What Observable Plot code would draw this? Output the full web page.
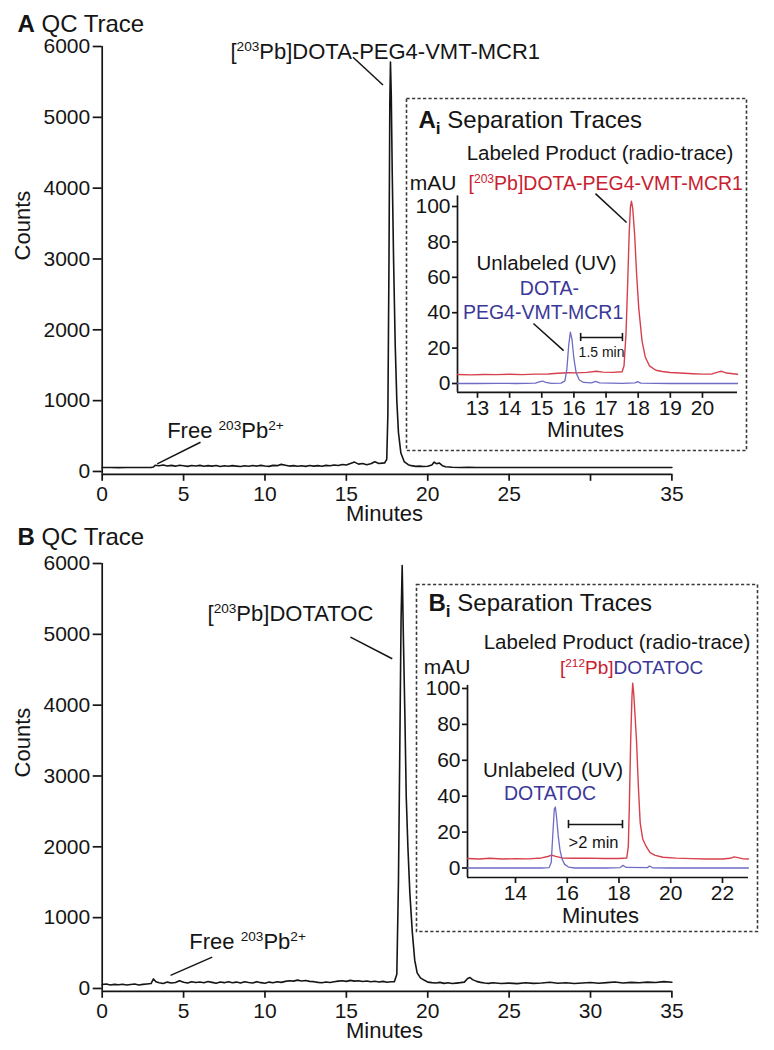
<!DOCTYPE html>
<html><head><meta charset="utf-8">
<script src="https://cdn.jsdelivr.net/npm/d3@7"></script>
<script src="https://cdn.jsdelivr.net/npm/@observablehq/plot@0.6"></script>
<style>
html,body{margin:0;padding:0;background:#fff;}
#fig{position:relative;width:774px;height:1050px;background:#fff;overflow:hidden;}
</style></head><body><div id="fig"></div>
<script>
// ---------------- data ----------------
// QC trace A: [minutes, counts]
const qcA = [[0,55],[0.5,56],[1,54],[1.5,56],[2,55],[2.5,56],[3,57],[3.15,62],[3.25,88],[3.5,80],[3.75,92],[4,78],[4.25,86],[4.5,75],[4.75,88],[5,80],[5.25,72],[5.5,84],[5.75,78],[6,86],[6.25,74],[6.5,82],[6.75,76],[7,84],[7.25,70],[7.5,80],[7.75,74],[8,82],[8.25,76],[8.5,70],[8.75,80],[9,74],[9.25,84],[9.5,76],[9.75,86],[10,78],[10.25,72],[10.5,86],[10.75,82],[11,100],[11.25,88],[11.5,76],[11.75,82],[12,74],[12.25,80],[12.5,72],[12.75,84],[13,76],[13.25,82],[13.5,74],[13.75,86],[14,80],[14.25,92],[14.5,84],[14.75,98],[15,92],[15.25,112],[15.5,132],[15.75,104],[16,112],[16.25,96],[16.5,108],[16.75,136],[17,112],[17.2,118],[17.35,120],[17.48,170],[17.55,800],[17.62,3000],[17.67,5200],[17.71,5780],[17.76,5300],[17.82,4200],[17.9,3000],[18.0,1800],[18.1,1000],[18.2,550],[18.35,260],[18.55,140],[18.8,95],[19,82],[19.25,72],[19.5,76],[19.75,70],[20,74],[20.25,92],[20.4,132],[20.55,108],[20.7,120],[20.9,82],[21.1,66],[21.5,60],[22,57],[22.5,58],[23,55],[24,57],[25,55],[26,57],[27,55],[28,56],[29,55],[30,56],[31,55],[32,57],[33,55],[34,56],[35,55]];
// QC trace B: [minutes, counts]
const qcB = [[0,55],[0.25,62],[0.5,50],[0.75,58],[1,52],[1.25,60],[1.5,48],[1.75,56],[2,62],[2.25,50],[2.5,58],[2.75,64],[3,70],[3.15,135],[3.3,95],[3.5,80],[3.75,70],[4,90],[4.25,78],[4.5,84],[4.75,110],[5,88],[5.25,76],[5.5,96],[5.75,84],[6,92],[6.25,80],[6.5,98],[6.75,86],[7,74],[7.25,92],[7.5,82],[7.75,96],[8,80],[8.25,90],[8.5,76],[8.75,94],[9,84],[9.25,78],[9.5,96],[9.75,82],[10,74],[10.25,90],[10.5,80],[10.75,94],[11,86],[11.25,100],[11.5,110],[11.75,104],[12,118],[12.25,106],[12.5,112],[12.75,100],[13,96],[13.25,86],[13.5,80],[13.75,92],[14,84],[14.25,96],[14.5,104],[14.75,110],[15,100],[15.25,114],[15.5,104],[15.75,110],[16,98],[16.25,106],[16.5,94],[16.75,102],[17,92],[17.25,100],[17.5,88],[17.75,94],[17.95,95],[18.1,200],[18.2,1500],[18.28,3300],[18.36,5200],[18.43,5970],[18.5,5000],[18.6,3800],[18.68,2700],[18.78,2000],[18.9,1350],[19.05,800],[19.2,400],[19.35,220],[19.55,150],[19.8,115],[20,90],[20.25,82],[20.5,78],[20.75,86],[21,72],[21.25,80],[21.5,70],[21.75,76],[22,82],[22.25,90],[22.45,140],[22.6,155],[22.75,125],[23,100],[23.25,86],[23.5,78],[23.75,72],[24,80],[24.5,70],[25,76],[25.5,68],[26,80],[26.5,72],[27,78],[27.5,88],[28,74],[28.5,80],[29,70],[29.5,78],[30,84],[30.5,74],[31,82],[31.5,92],[32,78],[32.5,86],[33,80],[33.5,90],[34,84],[34.5,96],[35,88]];
// Separation traces Ai: [minutes, mAU]
const radioA = [[12.38,5.1],[12.8,4.9],[13.2,5.1],[13.6,5.0],[14.0,5.2],[14.4,5.0],[14.8,5.3],[15.2,5.4],[15.5,5.8],[15.8,6.1],[16.1,6.0],[16.4,6.3],[16.7,6.9],[16.9,6.4],[17.2,6.3],[17.5,6.6],[17.56,10],[17.62,28],[17.67,55],[17.72,85],[17.76,100],[17.79,103],[17.83,99],[17.89,84],[17.95,62],[18.02,42],[18.12,24],[18.22,15],[18.35,10],[18.55,7.5],[18.75,6.8],[19.0,6.2],[19.3,5.9],[19.7,5.5],[20.0,5.3],[20.3,5.4],[20.5,6.6],[20.6,6.9],[20.75,5.9],[21.09,5.2]];
const uvA = [[12.38,0],[13,0],[13.6,0.1],[14.2,0],[14.8,0.2],[14.95,1.0],[15.02,1.4],[15.12,0.6],[15.3,0.1],[15.6,0.2],[15.72,1.5],[15.78,8],[15.84,22],[15.89,29],[15.94,25],[16.0,14],[16.07,6],[16.17,2],[16.3,0.6],[16.55,0.3],[16.67,1.2],[16.8,0.4],[17.5,0.1],[17.9,0.4],[17.98,1.1],[18.08,0.2],[19,0],[20,0],[21.09,0]];
// Separation traces Bi: [minutes, mAU]
const radioB = [[12.15,5.3],[12.6,5.0],[13,5.4],[13.5,5.0],[14,5.2],[14.5,5.1],[15,5.6],[15.25,6.4],[15.4,7.2],[15.55,6.5],[15.8,5.6],[16.2,5.4],[16.8,5.5],[17.4,5.3],[18,5.3],[18.3,5.6],[18.36,12],[18.4,35],[18.45,70],[18.5,95],[18.53,103],[18.57,97],[18.62,85],[18.68,70],[18.75,45],[18.82,25],[18.92,16],[19.05,12],[19.2,8.5],[19.4,7],[19.7,6],[20.2,5.5],[20.8,5.2],[21.4,5.0],[22,5.0],[22.3,5.4],[22.45,6.2],[22.6,5.8],[22.8,5.1],[23,5.0]];
const uvB = [[12.15,0],[13,0],[14,0],[15,0],[15.3,0.2],[15.38,3],[15.44,18],[15.5,33],[15.54,34],[15.59,28],[15.65,18],[15.72,10],[15.8,5],[15.9,2],[16.05,0.5],[16.3,0],[17.5,0],[18.05,0.2],[18.15,1.5],[18.28,0.3],[19.1,0.2],[19.18,1.1],[19.3,0.1],[20,0],[23,0]];

// tick labels
const mainXTicks = [0,5,10,15,20,25,30,35];
const mainYTicks = [0,1000,2000,3000,4000,5000,6000];
const insetAXTicks = [13,14,15,16,17,18,19,20];
const insetBXTicks = [14,16,18,20,22];
const insetYTicks = [0,20,40,60,80,100];

// texts
const titlesText = {A: "*A* QC Trace", B: "*B* QC Trace", Ai: "*A*_i_ Separation Traces", Bi: "*B*_i_ Separation Traces"};
// annotation anchors (data units)
const notesA = [{text: "[^203^Pb]DOTA-PEG4-VMT-MCR1", x: 7.88, y: 5929}, {text: "Free ^203^Pb^2+^", x: 3.99, y: 569}];
const leadersA = [{x1: 15.41, y1: 5849, x2: 17.25, y2: 5456}, {x1: 6.04, y1: 413, x2: 3.38, y2: 108}];
const notesB = [{text: "[^203^Pb]DOTATOC", x: 6.47, y: 5294}, {text: "Free ^203^Pb^2+^", x: 5.35, y: 654}];
const leadersB = [{x1: 15.25, y1: 4960, x2: 17.82, y2: 4655}, {x1: 6.76, y1: 442, x2: 4.20, y2: 184}];
const notesAi = {
  product: {text: "Labeled Product (radio-trace)", x: 16.81, y: 130.1},
  mau: {text: "mAU", x: 12.347, y: 113},
  radio: {text: "[^203^Pb]DOTA-PEG4-VMT-MCR1", x: 12.72, y: 113},
  unlabeled: {text: "Unlabeled (UV)", x: 15.15, y: 67.8},
  uv1: {text: "DOTA-", x: 15.24, y: 53.7},
  uv2: {text: "PEG4-VMT-MCR1", x: 15.04, y: 40.1},
  gap: {text: "1.5 min", x: 16.86, y: 17.5}
};
const leadersAi = [{x1: 16.67, y1: 107.3, x2: 17.64, y2: 91}, {x1: 14.74, y1: 33.9, x2: 15.68, y2: 18.6}];
const bracketAi = {x1: 16.21, x2: 17.51, y: 26.0};
const notesBi = {
  product: {text: "Labeled Product (radio-trace)", x: 17.923, y: 125.6},
  mau: {text: "mAU", x: 12.261, y: 111.7},
  radio: {text: "[^212^Pb]", x: 17.787, y: 111.7},
  radio2: {text: "DOTATOC", x: 17.787, y: 111.7},
  unlabeled: {text: "Unlabeled (UV)", x: 15.449, y: 54.3},
  uv1: {text: "DOTATOC", x: 15.333, y: 41.5},
  gap: {text: ">2 min", x: 17.015, y: 14.2}
};
const bracketBi = {x1: 16.048, x2: 18.135, y: 24.2};

// ---------------- drawing ----------------
const FONT = '"Liberation Sans", Arial, Helvetica, sans-serif';
const INK = "#151515";
const RED_LINE = "#d6404c", RED_TEXT = "#c9202f", BLUE_LINE = "#6f6cc6", BLUE_TEXT = "#3b3898";
const fig = document.getElementById("fig");

function richify(svg) {
  const NS = "http://www.w3.org/2000/svg";
  svg.querySelectorAll("text").forEach(t => {
    if (t.querySelector("tspan")) return;
    const s = t.textContent;
    if (!/[\^_*]/.test(s)) return;
    const F = parseFloat(getComputedStyle(t).fontSize) || 16;
    const parts = s.split(/(\^[^\^]+\^|_[^_]+_|\*[^*]+\*)/).filter(p => p);
    t.textContent = "";
    let cur = 0;
    for (const p of parts) {
      const ts = document.createElementNS(NS, "tspan");
      let txt = p, tgt = 0;
      if (p.length > 2 && p[0] === "^" && p.endsWith("^")) {
        txt = p.slice(1, -1); tgt = -0.36 * F; ts.setAttribute("font-size", (0.62 * F).toFixed(2));
      } else if (p.length > 2 && p[0] === "_" && p.endsWith("_")) {
        txt = p.slice(1, -1); tgt = 0.24 * F; ts.setAttribute("font-size", (0.72 * F).toFixed(2)); ts.setAttribute("font-weight", "bold");
      } else if (p.length > 2 && p[0] === "*" && p.endsWith("*")) {
        txt = p.slice(1, -1); ts.setAttribute("font-weight", "bold");
      }
      if (tgt !== cur) { ts.setAttribute("dy", (tgt - cur).toFixed(2)); cur = tgt; }
      ts.textContent = txt;
      t.appendChild(ts);
    }
  });
}

function place(svg, left, top) {
  svg.style.position = "absolute";
  svg.style.left = left + "px";
  svg.style.top = top + "px";
  svg.style.maxWidth = "none";
  fig.appendChild(svg);
  richify(svg);
}

const XY = {x: d => d[0], y: d => d[1]};
const LINK = {x1: "x1", y1: "y1", x2: "x2", y2: "y2"};
const TXT = {x: "x", y: "y", text: "text", lineAnchor: "middle"};
const LBL = {text: d => d, lineAnchor: "middle"};

function qcPlot({trace, height, marginTop, title, titleDy, notes, leaders, hide30}) {
  const marginBottom = height - (marginTop + 6040 * 0.070828);
  return Plot.plot({
    width: 774, height,
    marginLeft: 101.7, marginRight: 102.6, marginTop, marginBottom,
    x: {domain: [0, 35]},
    y: {domain: [-40, 6000]},
    style: {fontFamily: FONT, color: INK, background: "transparent", overflow: "visible"},
    marks: [
      Plot.ruleY([-40], {stroke: INK, strokeWidth: 1.7}),
      Plot.ruleX([0], {stroke: INK, strokeWidth: 1.7}),
      Plot.axisX({ticks: mainXTicks, tickSize: 7, tickPadding: 5, fontSize: 21, strokeWidth: 1.7, label: null,
        tickFormat: d => (hide30 && d === 30 ? "" : String(d))}),
      Plot.axisY({ticks: mainYTicks, tickSize: 9, tickPadding: 3, fontSize: 21, strokeWidth: 1.7, label: null,
        tickFormat: d => String(d)}),
      Plot.line(trace, {...XY, stroke: INK, strokeWidth: 1.6}),
      Plot.link(leaders, {...LINK, stroke: INK, strokeWidth: 1.5}),
      Plot.text([notes[0]], {...TXT, textAnchor: "start", fontSize: 22, fill: INK}),
      Plot.text([notes[1]], {...TXT, textAnchor: "start", fontSize: 22, fill: INK}),
      Plot.text([title], {...LBL, frameAnchor: "top-left", textAnchor: "start", dx: -84.7, dy: titleDy, fontSize: 24, fill: INK}),
      Plot.text(["Counts"], {...LBL, frameAnchor: "left", rotate: -90, dx: -79, fontSize: 22, fill: INK}),
      Plot.text(["Minutes"], {...LBL, frameAnchor: "bottom", dx: -2.5, dy: 40, fontSize: 22, fill: INK})
    ]
  });
}

function insetPlot({w, h, mL, mR, mT, mB, xDomain, yDomain, yTop, xTicks, radio, uv, title, titleDx, titleDy, minutesDx, minutesDy, extra}) {
  return Plot.plot({
    width: w, height: h,
    marginLeft: mL, marginRight: mR, marginTop: mT, marginBottom: mB,
    x: {domain: xDomain},
    y: {domain: yDomain},
    style: {fontFamily: FONT, color: INK, background: "white", overflow: "visible"},
    marks: [
      Plot.frame({stroke: "#3a3a3a", strokeWidth: 1.6, strokeDasharray: "3.2,2.3",
        insetLeft: -(mL - 1), insetRight: -(mR - 1), insetTop: -(mT - 1), insetBottom: -(mB - 1)}),
      Plot.ruleY([yDomain[0]], {stroke: INK, strokeWidth: 1.7}),
      Plot.ruleX([xDomain[0]], {y1: yDomain[0], y2: yTop, stroke: INK, strokeWidth: 1.7}),
      Plot.axisX({ticks: xTicks, tickSize: 6, tickPadding: 2, fontSize: 21, strokeWidth: 1.7, label: null, tickFormat: d => String(d)}),
      Plot.axisY({ticks: insetYTicks, tickSize: 5, tickPadding: 2, fontSize: 21, strokeWidth: 1.7, label: null, tickFormat: d => String(d)}),
      Plot.line(radio, {...XY, stroke: RED_LINE, strokeWidth: 1.4}),
      Plot.line(uv, {...XY, stroke: BLUE_LINE, strokeWidth: 1.3}),
      Plot.text([title], {...LBL, frameAnchor: "top-left", textAnchor: "start", dx: titleDx, dy: titleDy, fontSize: 24, fill: INK}),
      Plot.text(["Minutes"], {...LBL, frameAnchor: "bottom", dx: minutesDx, dy: minutesDy, fontSize: 22, fill: INK}),
      ...extra
    ]
  });
}

function bracket(b) {
  return [
    Plot.link([b], {x1: "x1", x2: "x2", y1: "y", y2: "y", stroke: INK, strokeWidth: 1.6}),
    Plot.ruleX([b.x1, b.x2], {y1: b.y - 2.3, y2: b.y + 2.3, stroke: INK, strokeWidth: 1.6})
  ];
}

// Main A
place(qcPlot({trace: qcA, height: 525, marginTop: 46, title: titlesText.A, titleDy: -22.5,
  notes: notesA, leaders: leadersA, hide30: true}), 0, 0);

// Inset Ai
place(insetPlot({w: 342, h: 354, mL: 52, mR: 10, mT: 98.4, mB: 59.15,
  xDomain: [12.378, 21.09], yDomain: [-5, 106], yTop: 106, xTicks: insetAXTicks,
  radio: radioA, uv: uvA, title: titlesText.Ai, titleDx: -39, titleDy: -75.4, minutesDx: -12, minutesDy: 37.5,
  extra: [
    Plot.text([notesAi.product], {...TXT, fontSize: 20.5, fill: INK}),
    Plot.text([notesAi.mau], {...TXT, textAnchor: "end", fontSize: 21, fill: INK}),
    Plot.text([notesAi.radio], {...TXT, textAnchor: "start", fontSize: 19.5, fill: RED_TEXT}),
    Plot.text([notesAi.unlabeled], {...TXT, fontSize: 20.5, fill: INK}),
    Plot.text([notesAi.uv1], {...TXT, fontSize: 19.5, fill: BLUE_TEXT}),
    Plot.text([notesAi.uv2], {...TXT, fontSize: 19.5, fill: BLUE_TEXT}),
    Plot.text([notesAi.gap], {...TXT, fontSize: 14, fill: INK}),
    Plot.link(leadersAi, {...LINK, stroke: INK, strokeWidth: 1.5}),
    ...bracket(bracketAi)
  ]}), 405, 97);

// Main B
place(qcPlot({trace: qcB, height: 532, marginTop: 45, title: titlesText.B, titleDy: -26.3,
  notes: notesB, leaders: leadersB, hide30: false}), 0, 518);

// Inset Bi
place(insetPlot({w: 343, h: 349, mL: 52, mR: 10, mT: 97.8, mB: 55,
  xDomain: [12.145, 23.005], yDomain: [-5.3, 104], yTop: 101.7, xTicks: insetBXTicks,
  radio: radioB, uv: uvB, title: titlesText.Bi, titleDx: -39, titleDy: -77.8, minutesDx: -7.5, minutesDy: 38.5,
  extra: [
    Plot.text([notesBi.product], {...TXT, fontSize: 20.5, fill: INK}),
    Plot.text([notesBi.mau], {...TXT, textAnchor: "end", fontSize: 21, fill: INK}),
    Plot.text([notesBi.radio], {...TXT, textAnchor: "end", fontSize: 19, fill: RED_TEXT}),
    Plot.text([notesBi.radio2], {...TXT, textAnchor: "start", fontSize: 19, fill: BLUE_TEXT}),
    Plot.text([notesBi.unlabeled], {...TXT, fontSize: 20.5, fill: INK}),
    Plot.text([notesBi.uv1], {...TXT, fontSize: 19.5, fill: BLUE_TEXT}),
    Plot.text([notesBi.gap], {...TXT, fontSize: 16.5, fill: INK}),
    ...bracket(bracketBi)
  ]}), 415, 583);
</script>
</body></html>
